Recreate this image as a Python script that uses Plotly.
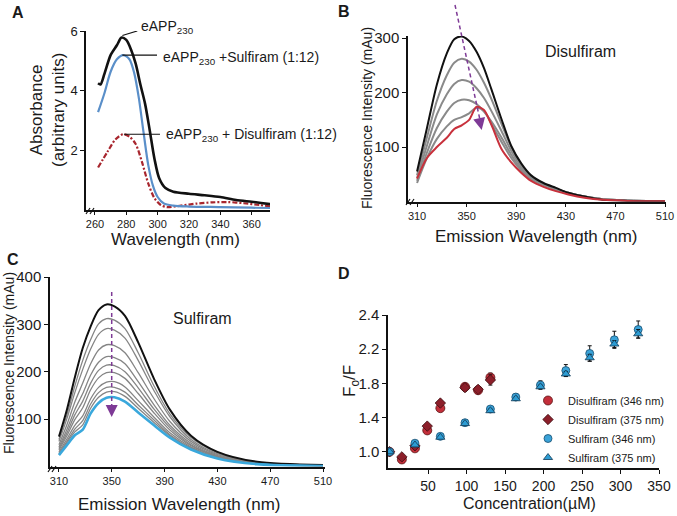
import plotly.graph_objects as go

FONT = "Liberation Sans, Arial, Helvetica, sans-serif"
W, H = 677, 516

# ---------------- Panel A: absorbance ----------------
a_black_nm = [262, 263.5, 266, 270, 274, 277, 280, 283, 286, 289, 292, 295, 298, 301, 305, 310, 320, 330, 340, 350, 360, 366, 372]
a_black = [4.24, 4.2, 4.55, 5.19, 5.52, 5.78, 5.7, 5.38, 4.9, 4.2, 3.55, 2.65, 1.7, 1.05, 0.72, 0.6, 0.53, 0.48, 0.42, 0.32, 0.26, 0.22, 0.18]
a_blue_nm = [262, 266, 270, 274, 278, 282, 285, 288, 291, 294, 297, 300, 304, 310, 320, 340, 360, 372]
a_blue = [3.27, 3.9, 4.63, 5.05, 5.19, 5.05, 4.6, 3.75, 2.6, 1.5, 0.8, 0.42, 0.2, 0.13, 0.1, 0.08, 0.06, 0.05]
a_red_nm = [262, 268, 273, 278, 282, 286, 290, 294, 298, 302, 306, 315, 325, 335, 345, 355, 365, 372]
a_red = [1.41, 1.94, 2.35, 2.53, 2.45, 2.2, 1.6, 0.88, 0.38, 0.15, 0.08, 0.13, 0.2, 0.24, 0.25, 0.21, 0.15, 0.1]
a_xticks = [260, 280, 300, 320, 340, 360]
a_yticks = [2, 4, 6]

# ---------------- Panel B: disulfiram quenching ----------------
b_nm = [310, 318, 326, 334, 340, 346, 352, 358, 364, 370, 378, 386, 394, 402, 412, 422, 432, 445, 460, 480, 510]
b_black = [55, 135, 215, 272, 298, 303, 295, 275, 245, 206, 152, 102, 70, 48, 34, 25, 16, 9, 3, 1, 0]
b_gray1 = [48, 118, 185, 232, 255, 262, 257, 242, 218, 188, 143, 100, 68, 47, 33, 24, 16, 9, 4, 2, 0.5]
b_gray2 = [43, 103, 160, 197, 216, 223, 220, 208, 190, 166, 130, 93, 64, 45, 32, 23, 16, 9, 4, 2, 0.5]
b_gray3 = [38, 90, 135, 165, 181, 187, 186, 179, 165, 147, 118, 86, 60, 43, 31, 22, 15, 9, 4, 2, 0.5]
b_gray4 = [34, 80, 115, 138, 150, 155, 162, 172, 166, 142, 110, 80, 57, 41, 30, 22, 15, 9, 4, 2, 0.5]
b_red = [42, 80, 100, 117, 133, 140, 150, 174, 168, 141, 97, 72, 53, 38, 27, 19, 13, 7, 3, 1, 0.5]
b_xticks = [310, 350, 390, 430, 470, 510]
b_yticks = [100, 200, 300]

# ---------------- Panel C: sulfiram quenching ----------------
c_nm = [310, 316, 322, 328, 334, 340, 346, 352, 360, 370, 382, 394, 410, 430, 460, 510]
c_black = [63, 120, 188, 250, 296, 330, 342, 338, 318, 262, 185, 120, 65, 31, 10, 3]
c_grays = [
    [57, 109, 170, 224, 268, 301, 312, 309, 291, 240, 170, 111, 61, 29, 9, 3],
    [53, 101, 156, 205, 248, 279, 291, 288, 271, 224, 160, 105, 57, 27, 9, 2],
    [46, 88, 136, 176, 217, 246, 257, 255, 240, 198, 143, 95, 53, 25, 8, 2],
    [41, 78, 120, 154, 193, 220, 232, 230, 217, 179, 130, 87, 49, 23, 7, 2],
    [38, 71, 109, 138, 176, 203, 214, 213, 200, 166, 121, 82, 46, 22, 7, 2],
    [35, 65, 99, 124, 162, 187, 198, 198, 186, 154, 113, 77, 44, 21, 6, 2],
    [31, 58, 87, 107, 143, 167, 178, 179, 168, 139, 104, 71, 41, 19, 6, 1],
    [28, 53, 79, 97, 132, 156, 167, 167, 157, 130, 98, 67, 39, 19, 6, 1],
    [26, 50, 73, 88, 123, 146, 157, 158, 148, 123, 93, 65, 38, 18, 5, 1],
]
c_blue = [24, 45, 66, 78, 112, 134, 145, 146, 137, 114, 87, 61, 36, 17, 5, 1]
c_xticks = [310, 350, 390, 430, 470, 510]
c_yticks = [100, 200, 300, 400]

# ---------------- Panel D: Stern-Volmer ----------------
dis_conc = [0, 16, 33, 49, 66, 98, 115, 131]
dis346 = [1.0, 0.91, 1.04, 1.25, 1.51, 1.76, 1.72, 1.87]
dis346_err = [0, 0.02, 0.02, 0.03, 0.03, 0.03, 0.03, 0.05]
dis375 = [1.0, 0.94, 1.07, 1.30, 1.57, 1.75, 1.73, 1.84]
dis375_err = [0, 0.02, 0.02, 0.02, 0.02, 0.04, 0.03, 0.06]
sul_conc = [0, 33, 66, 98, 131, 164, 196, 229, 260, 292, 323]
sul346 = [1.0, 1.10, 1.18, 1.34, 1.50, 1.64, 1.78, 1.95, 2.15, 2.31, 2.43]
sul346_err = [0, 0.01, 0.01, 0.02, 0.03, 0.04, 0.05, 0.07, 0.09, 0.10, 0.10]
sul375 = [1.0, 1.08, 1.17, 1.33, 1.48, 1.62, 1.76, 1.91, 2.10, 2.26, 2.38]
sul375_err = [0, 0.01, 0.01, 0.01, 0.02, 0.02, 0.02, 0.03, 0.04, 0.04, 0.05]
d_xticks = [50, 100, 150, 200, 250, 300, 350]
d_ytickvals = [1.0, 1.4, 1.8, 2.2, 2.6]
d_yticktext = ["1.0", "1.4", "1.8", "2.2", "2.4"]

fig = go.Figure()


def line(x, y, color, width, ax, dash=None, smoothing=0.8):
    fig.add_trace(go.Scatter(
        x=x, y=y, mode="lines", showlegend=False, hoverinfo="skip",
        line=dict(color=color, width=width, shape="spline", smoothing=smoothing, dash=dash),
        xaxis="x" + ax, yaxis="y" + ax))


# A
line(a_red_nm, a_red, "#a8262e", 2.2, "", dash="5px,2px,2px,2px")
line(a_blue_nm, a_blue, "#5a8fc9", 2.2, "")
line(a_black_nm, a_black, "#111111", 2.6, "")
# B
for g in [b_gray1, b_gray2, b_gray3, b_gray4]:
    line(b_nm, g, "#8a8a8a", 2.0, "2")
line(b_nm, b_black, "#111111", 2.0, "2")
line(b_nm, b_red, "#c8313c", 2.0, "2")
# C
for g in c_grays:
    line(c_nm, g, "#858585", 1.3, "3")
line(c_nm, c_black, "#111111", 2.0, "3")
line(c_nm, c_blue, "#3aa8dc", 2.6, "3")


# D
def pts(x, y, err, name, symbol, size, color, lcolor):
    fig.add_trace(go.Scatter(
        x=x, y=y, mode="markers", name=name,
        marker=dict(symbol=symbol, size=size, color=color, line=dict(color=lcolor, width=0.8)),
        error_y=dict(type="data", array=err, color="#111111", thickness=1, width=2),
        xaxis="x4", yaxis="y4"))


pts(dis_conc, dis346, dis346_err, "Disulfiram (346 nm)", "circle", 9, "#c32e3a", "#5a1515")
pts(dis_conc, dis375, dis375_err, "Disulfiram (375 nm)", "diamond", 8, "#8c1f2a", "#3c0c10")
pts(sul_conc, sul346, sul346_err, "Sulfiram (346 nm)", "circle", 8, "#3aa3d9", "#1b4e6e")
pts(sul_conc, sul375, sul375_err, "Sulfiram (375 nm)", "triangle-up", 8, "#2d9cd3", "#123a55")


def xd(px):
    return px / W


def yd(py):
    return 1 - py / H


def axis(dom, rng, tickvals, fs, anchor, ticktext=None):
    d = dict(domain=dom, range=rng, tickvals=tickvals, showline=True, linecolor="#111111",
             linewidth=1.5, ticks="outside", ticklen=4, tickwidth=1.2, tickcolor="#111111",
             showgrid=False, zeroline=False, anchor=anchor, automargin=False,
             tickfont=dict(family=FONT, size=fs, color="#1a1a1a"))
    if ticktext is not None:
        d["ticktext"] = ticktext
    return d


layout = dict(
    width=W, height=H, margin=dict(l=0, r=0, t=0, b=0), autosize=False,
    template="none", plot_bgcolor="white", paper_bgcolor="white",
    font=dict(family=FONT, color="#1a1a1a"),
    xaxis=axis([xd(86), xd(270)], [254.3, 371.7], a_xticks, 11, "y"),
    yaxis=axis([yd(209.5), yd(31)], [0, 6.0], a_yticks, 13, "x"),
    xaxis2=axis([xd(408), xd(666)], [302.7, 510.8], b_xticks, 11, "y2"),
    yaxis2=axis([yd(201.5), yd(36)], [0, 304], b_yticks, 15, "x2"),
    xaxis3=axis([xd(50), xd(325)], [303.2, 511.5], c_xticks, 11, "y3"),
    yaxis3=axis([yd(466.5), yd(277)], [0, 400], c_yticks, 15, "x3"),
    xaxis4=axis([xd(388), xd(659)], [-2, 350], d_xticks, 14, "y4"),
    yaxis4=axis([yd(468), yd(315)], [0.81, 2.6], d_ytickvals, 15, "x4", d_yticktext),
    showlegend=True,
    legend=dict(x=xd(528), y=yd(386), xanchor="left", yanchor="top", bgcolor="rgba(0,0,0,0)",
                font=dict(family=FONT, size=11, color="#1a1a1a"), tracegroupgap=0,
                itemclick=False),
)
fig.update_layout(**layout)

ann = []


def text(px, py, s, size, angle=0, xanchor="center", yanchor="middle"):
    ann.append(dict(x=xd(px), y=yd(py), xref="paper", yref="paper", text=s, showarrow=False,
                    textangle=angle, xanchor=xanchor, yanchor=yanchor,
                    font=dict(family=FONT, size=size, color="#1a1a1a")))


# panel letters
text(18, 12, "<b>A</b>", 16)
text(344, 11, "<b>B</b>", 16)
text(13, 259, "<b>C</b>", 16)
text(344, 273, "<b>D</b>", 16)
# axis titles
text(48, 110, "Absorbance<br>(arbitrary units)", 17, -90)
text(176, 240, "Wavelength (nm)", 17)
text(367, 118, "Fluorescence Intensity (mAu)", 14, -90)
text(536, 237, "Emission Wavelength (nm)", 17)
text(9, 363, "Fluorescence Intensity (mAu)", 14, -90)
text(179, 504, "Emission Wavelength (nm)", 17)
text(351, 381, "F<sub>o</sub>/F", 17, -90)
text(529, 503, "Concentration(µM)", 16)
# labels in panels
text(580, 52, "Disulfiram", 16)
text(202, 318, "Sulfiram", 16)
text(139, 27, "eAPP<sub>230</sub>", 14, xanchor="left")
text(161, 58, "eAPP<sub>230</sub> +Sulfiram (1:12)", 14, xanchor="left")
text(164, 135, "eAPP<sub>230</sub> + Disulfiram (1:12)", 14, xanchor="left")

PURPLE = "#7e3a96"
# arrow heads
ann.append(dict(x=xd(481.7), y=yd(130), xref="paper", yref="paper", ax=-2.6, ay=-12, text="",
                showarrow=True, arrowhead=2, arrowsize=1.6, arrowwidth=1.5, arrowcolor=PURPLE))
ann.append(dict(x=xd(111.7), y=yd(417), xref="paper", yref="paper", ax=0, ay=-12, text="",
                showarrow=True, arrowhead=2, arrowsize=1.6, arrowwidth=1.5, arrowcolor=PURPLE))
fig.update_layout(annotations=ann)

shapes = []
# dashed arrow shafts
shapes.append(dict(type="line", xref="paper", yref="paper", x0=xd(455), y0=yd(5), x1=xd(480), y1=yd(120),
                   line=dict(color=PURPLE, width=1.5, dash="4px,3px")))
shapes.append(dict(type="line", xref="paper", yref="paper", x0=xd(111.7), y0=yd(292), x1=xd(111.7), y1=yd(408),
                   line=dict(color=PURPLE, width=1.5, dash="4px,3px")))
# axis break marks
for (bx, by) in [(86, 211), (406, 202), (48, 469)]:
    for off in (0, 4):
        shapes.append(dict(type="line", xref="paper", yref="paper",
                           x0=xd(bx + off), y0=yd(by + 3), x1=xd(bx + off + 4), y1=yd(by - 3),
                           line=dict(color="#111111", width=1.2)))
# leader lines in panel A (data coordinates)
shapes.append(dict(type="line", xref="x", yref="y", x0=277.5, y0=5.85, x1=287, y1=6.0,
                   line=dict(color="#111111", width=1.2)))
shapes.append(dict(type="line", xref="x", yref="y", x0=277.5, y0=5.19, x1=299.6, y1=5.19,
                   line=dict(color="#111111", width=1.2)))
shapes.append(dict(type="line", xref="x", yref="y", x0=278.5, y0=2.53, x1=301.5, y1=2.53,
                   line=dict(color="#111111", width=1.2)))
fig.update_layout(shapes=shapes)

fig.write_html("out.html", config={"displayModeBar": False},
               post_script="document.body.style.margin='0px';document.body.style.overflow='hidden';")
